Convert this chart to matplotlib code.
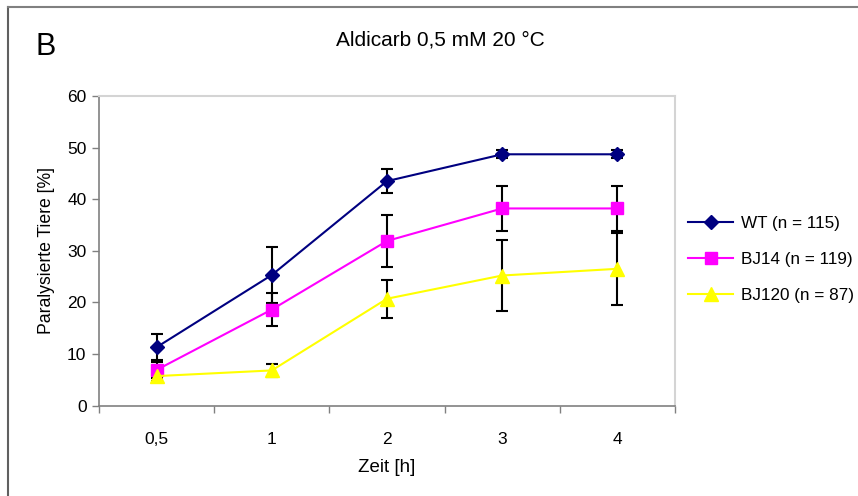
import matplotlib
matplotlib.use("Agg")
import matplotlib.pyplot as plt
from matplotlib.lines import Line2D

plt.rcParams['font.family'] = ['Liberation Sans', 'DejaVu Sans']

categories = ["0,5", "1", "2", "3", "4"]
wt = [11.3, 25.3, 43.5, 48.7, 48.7]
wt_err = [2.5, 5.4, 2.3, 0.8, 0.8]
bj14 = [6.9, 18.6, 31.9, 38.2, 38.2]
bj14_err = [1.5, 3.2, 5.0, 4.3, 4.3]
bj120 = [5.7, 6.8, 20.7, 25.2, 26.5]
bj120_err = [1.0, 1.2, 3.7, 6.9, 7.0]
labels = ["WT (n = 115)", "BJ14 (n = 119)", "BJ120 (n = 87)"]

fig = plt.figure(figsize=(8.58, 4.96), dpi=100)
ax = fig.add_axes([99/858, 1-405.5/496, 576/858, 309.5/496])

x = list(range(len(categories)))
series = [
    (wt, wt_err, "#000080", "D", 7),
    (bj14, bj14_err, "#FF00FF", "s", 8),
    (bj120, bj120_err, "#FFFF00", "^", 9.5),
]
handles = []
for (vals, errs, col, mk, ms), lab in zip(series, labels):
    ax.errorbar(x, vals, yerr=errs, fmt="none", ecolor="black",
                elinewidth=1.5, capsize=4, capthick=1.5, zorder=2)
    ax.plot(x, vals, color=col, lw=1.5, marker=mk, markersize=ms,
            markerfacecolor=col, markeredgecolor=col, zorder=3)
    handles.append(Line2D([], [], color=col, lw=1.5, marker=mk,
                          markersize=ms, markerfacecolor=col,
                          markeredgecolor=col))

ax.set_xlim(-0.5, len(categories) - 0.5)
ax.set_ylim(0, 60)
ax.set_yticks(range(0, 61, 10))
ax.set_xticks(x)
ax.set_xticklabels(categories)
ax.set_xticks([i - 0.5 for i in range(len(categories) + 1)], minor=True)
ax.tick_params(axis='x', which='major', length=0, pad=19, labelsize=12.5)
ax.tick_params(axis='x', which='minor', length=5, color="#808080", width=1)
ax.tick_params(axis='y', length=5, color="#808080", width=1, labelsize=12.5, pad=4)

for s in ["left", "bottom"]:
    ax.spines[s].set_color("#808080")
    ax.spines[s].set_linewidth(1.2)
for s in ["top", "right"]:
    ax.spines[s].set_color("#d4d4d4")
    ax.spines[s].set_linewidth(1.5)

ax.set_ylabel("Paralysierte Tiere [%]", fontsize=12.7, labelpad=9)
ax.set_xlabel("Zeit [h]", fontsize=13.5, labelpad=9)

fig.text(440/858, 1-40/496, "Aldicarb 0,5 mM 20 °C", ha="center", va="center", fontsize=15)
fig.text(36/858, 1-47/496, "B", ha="left", va="center", fontsize=22)

fig.legend(handles, labels, loc="upper left", bbox_to_anchor=(673/858, 1-201/496),
           frameon=False, fontsize=12.3, handlelength=2.6, labelspacing=1.22,
           handletextpad=0.47)

# outer frame
fig.add_artist(Line2D([8/858, 8/858], [0, 1-7/496], transform=fig.transFigure,
                      color="#606060", lw=1.5))
fig.add_artist(Line2D([8/858, 1], [1-7/496, 1-7/496], transform=fig.transFigure,
                      color="#808080", lw=1.5))

fig.savefig("out.png", dpi=100)
